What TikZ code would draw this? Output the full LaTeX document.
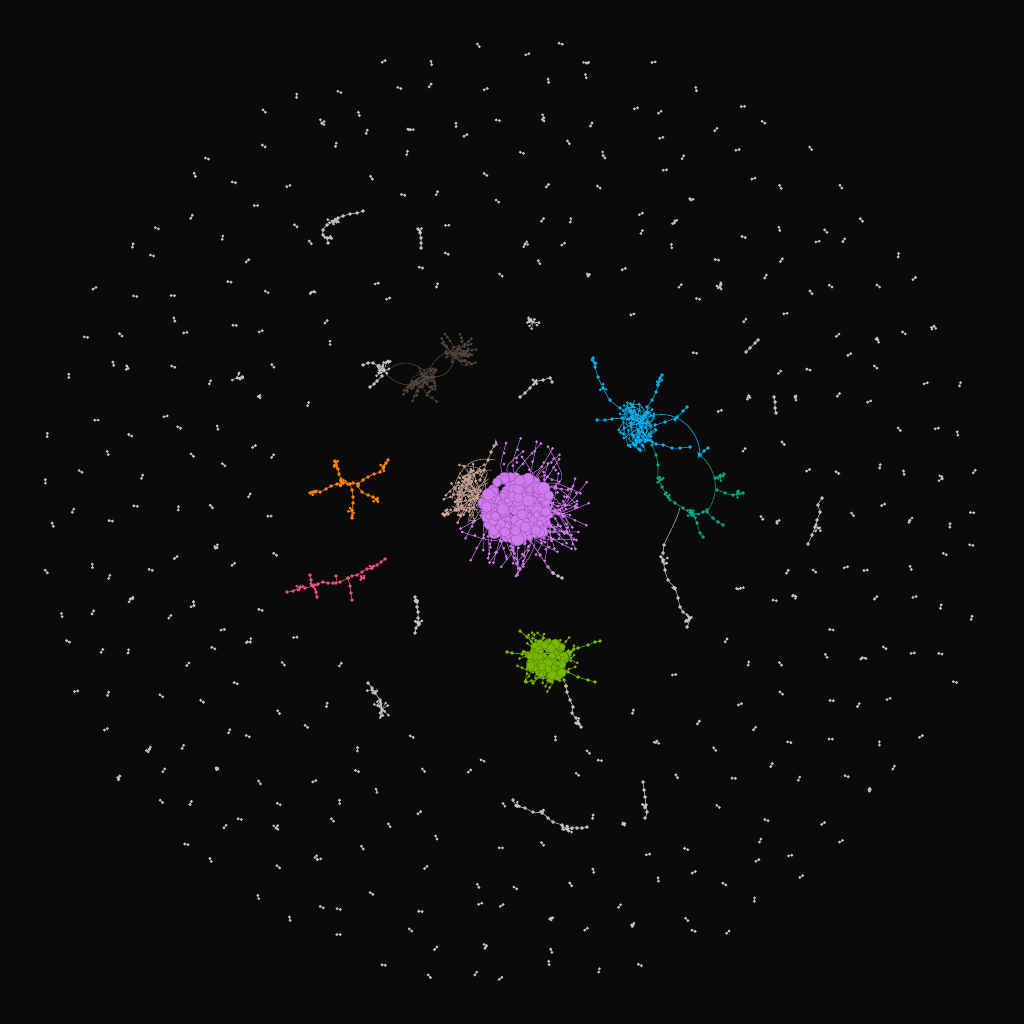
\documentclass[tikz,border=0pt]{standalone}
\usetikzlibrary{calc}
\definecolor{cbg}{HTML}{0A0A0A}
\definecolor{cgray}{HTML}{C4C4C4}
\definecolor{cgedge}{HTML}{9A9A9A}
\definecolor{cpu}{HTML}{D27AF2}
\definecolor{ctan}{HTML}{C9A597}
\definecolor{cgreen}{HTML}{78B800}
\definecolor{ccyan}{HTML}{00B2EC}
\definecolor{cteal}{HTML}{00A783}
\definecolor{corange}{HTML}{FF8500}
\definecolor{cpink}{HTML}{EE4F7B}
\definecolor{cdark}{HTML}{4E4742}
\newif\ifkeepit
\tikzset{pedge/.style={draw=cgedge, line width=.6pt}}
% random star: cx cy n r color
\newcommand\blob[5]{%
  \foreach \k in {1,...,#3}{%
    \pgfmathsetmacro\bang{rnd*360}%
    \pgfmathsetmacro\brad{#4*(0.35+0.65*rnd)}%
    \pgfmathsetmacro\bx{#1+\brad*cos(\bang)}%
    \pgfmathsetmacro\by{#2+\brad*sin(\bang)}%
    \draw[#5,line width=.45pt] (#1,#2) -- (\bx,\by);
    \fill[#5] (\bx,\by) circle (1.45);
  }%
  \fill[#5] (#1,#2) circle (1.7);}
% bubble core: cx cy n rx ry rmin rmax color
\newcommand\core[8]{%
  \foreach \k in {1,...,#3}{%
    \pgfmathsetmacro\cang{rnd*360}%
    \pgfmathsetmacro\crad{sqrt(rnd)}%
    \pgfmathsetmacro\qx{#1+#4*\crad*cos(\cang)}%
    \pgfmathsetmacro\qy{#2+#5*\crad*sin(\cang)}%
    \pgfmathsetmacro\qr{#6+rnd*(#7-#6)}%
    \filldraw[fill=#8, draw=#8!72!black, line width=.4pt] (\qx,\qy) circle (\qr);
  }}
% tendrils: cx cy n amin amax lmin lmax color r0
\newcommand\tendrils[9]{%
  \foreach \k in {1,...,#3}{%
    \pgfmathsetmacro\ta{#4+rnd*(#5-#4)}%
    \pgfmathsetmacro\tlen{#6+rnd*(#7-#6)}%
    \pgfmathsetmacro\sx{#1+#9*rand}%
    \pgfmathsetmacro\sy{#2+#9*rand}%
    \pgfmathsetmacro\ex{#1+\tlen*cos(\ta)}%
    \pgfmathsetmacro\ey{#2+\tlen*sin(\ta)}%
    \pgfmathsetmacro\off{rand*0.45*\tlen}%
    \pgfmathsetmacro\kx{(\sx+\ex)/2-\off*sin(\ta)}%
    \pgfmathsetmacro\ky{(\sy+\ey)/2+\off*cos(\ta)}%
    \draw[#8, line width=.5pt] (\sx,\sy) .. controls (\kx,\ky) .. (\ex,\ey);
    \foreach \tp in {0.62,0.82,1}{%
      \pgfmathsetmacro\dx{(1-\tp)^2*\sx+2*\tp*(1-\tp)*\kx+\tp^2*\ex}%
      \pgfmathsetmacro\dy{(1-\tp)^2*\sy+2*\tp*(1-\tp)*\ky+\tp^2*\ey}%
      \fill[#8] (\dx,\dy) circle (1.5);
    }%
  }}
% tangled mesh: cx cy n rx ry color
\newcommand\mesh[6]{%
  \foreach \k in {1,...,#3}{%
    \pgfmathsetmacro\mang{rnd*360}%
    \pgfmathsetmacro\mrad{sqrt(rnd)}%
    \pgfmathsetmacro\mx{#1+#4*\mrad*cos(\mang)}%
    \pgfmathsetmacro\my{#2+#5*\mrad*sin(\mang)}%
    \pgfmathsetmacro\nang{rnd*360}%
    \pgfmathsetmacro\nrad{sqrt(rnd)}%
    \pgfmathsetmacro\nx{#1+#4*\nrad*cos(\nang)}%
    \pgfmathsetmacro\ny{#2+#5*\nrad*sin(\nang)}%
    \pgfmathsetmacro\wx{(\mx+\nx)/2+rand*8}%
    \pgfmathsetmacro\wy{(\my+\ny)/2+rand*8}%
    \draw[#6,line width=.45pt] (\mx,\my) .. controls (\wx,\wy) .. (\nx,\ny);
    \fill[#6] (\mx,\my) circle (1.5);
  }}
\newcommand\chain[2]{\draw[#1, line width=.6pt] plot[smooth, tension=.5, mark=*, mark size=1.5pt, mark options={fill=#1, draw=none}] coordinates {#2};}
\newcommand\arrowtip[4]{\fill[#4] (#1,#2) ++(#3:4) -- ++(#3+150:7) -- ++(#3-90:3.5) -- cycle;}
\def\exlist{515/505/95, 640/415/60, 700/500/52, 685/600/38, 550/662/50, 350/488/45, 335/580/55, 420/372/60, 380/707/28, 417/615/24, 530/808/22, 568/822/24, 645/800/24, 818/522/30, 340/225/32, 420/238/16, 533/322/16, 537/385/20, 237/378/16, 775/405/14, 752/345/16, 720/287/14}
\begin{document}
\begin{tikzpicture}[x=1pt,y=-1pt]
\fill[cbg] (0,0) rectangle (1024,1024);
\useasboundingbox (0,0) rectangle (1024,1024);
\pgfmathsetseed{20}
% ---------- ring of small components ----------
\foreach \rr/\nn in {240/26,272/32,304/38,336/42,368/48,400/52,432/58,463/64}{%
  \foreach \ii in {1,...,\nn}{%
    \pgfmathsetmacro\pang{360/\nn*\ii+rand*130/\nn}%
    \pgfmathsetmacro\prad{\rr+rand*12}%
    \pgfmathsetmacro\px{512+\prad*cos(\pang)}%
    \pgfmathsetmacro\py{512+\prad*sin(\pang)}%
    \global\keepittrue
    \foreach \zx/\zy/\zr in \exlist{%
      \pgfmathtruncatemacro\hit{veclen((\px-\zx)/100,(\py-\zy)/100)*100<\zr}%
      \ifnum\hit=1 \global\keepitfalse\fi}%
    \ifkeepit
      \pgfmathsetmacro\kind{rnd}%
      \pgfmathsetmacro\ori{rnd*180}%
      \ifdim\kind pt<0.9pt
        \pgfmathsetmacro\ax{\px+1.7*cos(\ori)}%
        \pgfmathsetmacro\ay{\py+1.7*sin(\ori)}%
        \pgfmathsetmacro\bx{\px-1.7*cos(\ori)}%
        \pgfmathsetmacro\by{\py-1.7*sin(\ori)}%
        \draw[pedge] (\ax,\ay) -- (\bx,\by);
        \fill[cgray] (\ax,\ay) circle (1.55) (\bx,\by) circle (1.55);
      \else
        \blob{\px}{\py}{3}{4}{cgray}
      \fi
    \fi
  }}
% ---------- larger gray components ----------
\chain{cgray}{(363,211) (357,213) (350,214) (343,216) (338,218) (333,222) (327,225) (323,230) (323,235) (327,238) (328,243)}
\blob{333}{221}{8}{6}{cgray}
\blob{328}{238}{4}{4}{cgray}
\chain{cgray}{(418,229) (420,233) (421,238) (421,243) (421,248)}
\blob{420}{231}{2}{3}{cgray}
\blob{533}{322}{14}{7}{cgray}
\chain{cgray}{(520,397) (525,393) (530,388) (535,382) (543,380) (550,378) (552,382)}
\blob{536}{382}{4}{4}{cgray}
\blob{237}{378}{10}{6}{cgray}
\chain{cgray}{(368,683) (372,688) (375,693) (380,700) (382,710)}
\blob{382}{709}{16}{9}{cgray}
\blob{372}{690}{4}{5}{cgray}
\chain{cgray}{(415,597) (417,602) (417,607) (418,612) (418,618) (418,623) (416,628) (415,633)}
\blob{418}{622}{6}{5}{cgray}
\blob{416}{600}{3}{3}{cgray}
\chain{cgray}{(513,800) (517,806) (525,808) (533,812) (542,813) (548,818) (553,822) (562,825) (567,829) (572,828) (577,828) (582,828) (587,827)}
\blob{517}{805}{4}{4}{cgray}
\blob{542}{812}{3}{4}{cgray}
\blob{567}{829}{10}{6}{cgray}
\chain{cgray}{(643,782) (644,790) (645,797) (646,805) (647,812) (645,818)}
\blob{645}{806}{4}{4}{cgray}
\chain{cgray}{(822,498) (818,505) (820,512) (817,520) (815,527) (812,535) (808,544)}
\blob{818}{528}{4}{5}{cgray}
\chain{cgray}{(746,352) (750,348) (755,343) (758,340)}
\chain{cgray}{(774,397) (775,402) (775,408) (776,413)}
\blob{720}{287}{6}{5}{cgray}
% ---------- dark cluster and light gray neighbour ----------
\draw[cdark, line width=.6pt] (386,372) .. controls (400,358) and (415,362) .. (427,373);
\draw[cdark, line width=.6pt] (386,374) .. controls (402,390) and (418,386) .. (427,376);
\draw[cdark, line width=.6pt] (427,373) .. controls (440,350) and (448,352) .. (455,355);
\draw[cdark, line width=.6pt] (427,376) .. controls (445,380) and (452,370) .. (455,356);
\tendrils{427}{374}{14}{60}{150}{14}{34}{cdark}{3}
\tendrils{455}{354}{14}{-150}{40}{12}{24}{cdark}{3}
\mesh{427}{374}{16}{11}{8}{cdark}
\mesh{455}{354}{16}{10}{9}{cdark}
\chain{cgray}{(363,365) (368,363) (373,363) (378,366) (384,370)}
\chain{cgray}{(370,387) (374,384) (377,381) (382,376)}
\blob{384}{371}{14}{9}{cgray}
\blob{388}{361}{3}{3}{cgray}
% ---------- purple tendrils ----------
\tendrils{517}{508}{42}{-100}{160}{44}{70}{cpu}{20}
\tendrils{517}{508}{16}{-30}{40}{60}{76}{cpu}{16}
\tendrils{517}{508}{8}{80}{120}{55}{70}{cpu}{12}
\chain{cpu}{(530,540) (540,555) (548,567) (553,573)}
\chain{cgray}{(553,573) (558,576) (562,578)}
% ---------- tan ----------
\mesh{472}{492}{40}{24}{32}{ctan}
\chain{ctan}{(480,480) (484,470) (488,460) (491,452) (494,446)}
\arrowtip{495}{443}{-80}{ctan}
\chain{ctan}{(470,500) (462,506) (455,510) (448,514) (443,514)}
\blob{447}{513}{6}{5}{ctan}
\draw[ctan, line width=.5pt] (495,460) .. controls (470,455) and (455,470) .. (452,500);
\draw[ctan, line width=.5pt] (492,470) .. controls (465,470) and (458,485) .. (458,515);
\tendrils{476}{494}{14}{120}{260}{20}{36}{ctan}{6}
% ---------- purple core ----------
\mesh{517}{508}{40}{36}{34}{cpu}
\core{517}{508}{230}{35}{33}{2.5}{6.5}{cpu}
% ---------- green ----------
\tendrils{548}{660}{34}{0}{360}{20}{32}{cgreen}{8}
\chain{cgreen}{(548,660) (535,656) (522,654) (512,653) (507,652)}
\chain{cgreen}{(545,655) (535,645) (527,637) (520,631)}
\chain{cgreen}{(555,660) (568,652) (578,648) (588,645) (595,642) (600,641)}
\chain{cgreen}{(555,665) (568,672) (578,677) (588,680) (595,682)}
\chain{cgreen}{(545,668) (540,676) (533,683)}
\chain{cgreen}{(560,672) (564,680) (566,686)}
\chain{cgray}{(566,686) (567,692) (570,700) (573,707) (572,713) (576,718) (579,724) (581,727)}
\blob{578}{721}{4}{4}{cgray}
\mesh{548}{660}{30}{21}{22}{cgreen}
\core{548}{660}{80}{19}{20}{2}{5}{cgreen}
% ---------- cyan ----------
\chain{ccyan}{(632,413) (620,408) (610,400) (603,388) (598,377) (595,367) (593,358)}
\blob{594}{362}{4}{4}{ccyan}
\blob{603}{388}{3}{4}{ccyan}
\chain{ccyan}{(647,407) (652,400) (656,392) (658,385) (660,378) (662,375)}
\blob{659}{382}{4}{4}{ccyan}
\chain{ccyan}{(622,418) (612,419) (605,420) (597,420)}
\chain{ccyan}{(655,425) (665,422) (677,417) (683,411) (687,407)}
\arrowtip{675}{418}{-30}{ccyan}
\draw[ccyan, line width=.6pt] (645,418) .. controls (675,405) and (700,430) .. (700,455);
\chain{ccyan}{(647,440) (656,444) (663,445) (672,448) (680,448) (690,447)}
\chain{ccyan}{(700,455) (704,451) (708,448)}
\arrowtip{700}{455}{110}{ccyan}
\chain{ccyan}{(638,430) (640,440) (640,450)}
\mesh{637}{424}{60}{20}{25}{ccyan}
\blob{637}{420}{14}{10}{ccyan}
\blob{648}{440}{6}{6}{ccyan}
\blob{628}{408}{6}{6}{ccyan}
% ---------- teal ----------
\chain{cteal}{(652,445) (656,455) (658,465) (658,478) (662,487) (668,497) (675,503) (683,508) (693,515) (703,512) (707,510)}
\draw[cteal, line width=.6pt] (700,455) .. controls (718,470) and (720,495) .. (707,511);
\chain{cteal}{(717,490) (725,493) (733,495) (743,493)}
\chain{cteal}{(707,512) (713,518) (718,522) (723,525)}
\chain{cteal}{(693,515) (697,523) (700,533) (703,537)}
\chain{cteal}{(715,478) (720,476) (724,474)}
\blob{693}{513}{8}{6}{cteal}
\blob{668}{497}{5}{5}{cteal}
\blob{720}{477}{5}{4}{cteal}
\blob{737}{494}{5}{4}{cteal}
\blob{660}{480}{4}{4}{cteal}
\arrowtip{692}{511}{80}{cteal}
\draw[cgray!70!cteal, line width=.6pt] (680,508) .. controls (676,522) and (668,535) .. (664,545);
\chain{cgray}{(664,545) (663,553) (663,560) (665,570) (668,580) (675,588) (678,598) (680,607) (683,612) (690,618) (687,627)}
\blob{663}{560}{6}{5}{cgray}
\blob{689}{619}{8}{6}{cgray}
\arrowtip{675}{588}{70}{cgray}
% ---------- orange ----------
\chain{corange}{(310,493) (315,492) (320,492) (326,489) (331,486) (337,484) (342,482) (348,484) (353,483) (358,484)}
\chain{corange}{(335,461) (336,465) (338,469) (339,474) (341,479) (343,483)}
\chain{corange}{(358,484) (363,480) (368,477) (374,474) (380,472) (383,467) (386,463) (388,460)}
\chain{corange}{(350,484) (352,490) (353,497) (353,503) (352,510) (352,518)}
\chain{corange}{(358,486) (362,492) (368,495) (373,497) (377,500)}
\blob{336}{463}{5}{5}{corange}
\blob{343}{483}{6}{5}{corange}
\blob{352}{511}{5}{5}{corange}
\blob{384}{467}{4}{5}{corange}
\blob{313}{492}{4}{4}{corange}
\blob{376}{499}{3}{4}{corange}
% ---------- pink ----------
\chain{cpink}{(287,592) (293,591) (300,587) (305,588) (313,586) (318,584) (323,582) (328,583) (333,583) (340,582) (348,578) (352,576) (357,575) (362,572) (367,569) (372,568) (377,565) (381,562) (385,559)}
\chain{cpink}{(313,586) (311,580) (310,575)}
\chain{cpink}{(313,586) (316,592) (317,597)}
\chain{cpink}{(348,578) (350,586) (351,593) (352,600)}
\chain{cpink}{(336,583) (336,576)}
\blob{313}{586}{5}{5}{cpink}
\blob{300}{588}{4}{4}{cpink}
\blob{362}{578}{4}{4}{cpink}
\blob{372}{567}{3}{4}{cpink}
\end{tikzpicture}
\end{document}
